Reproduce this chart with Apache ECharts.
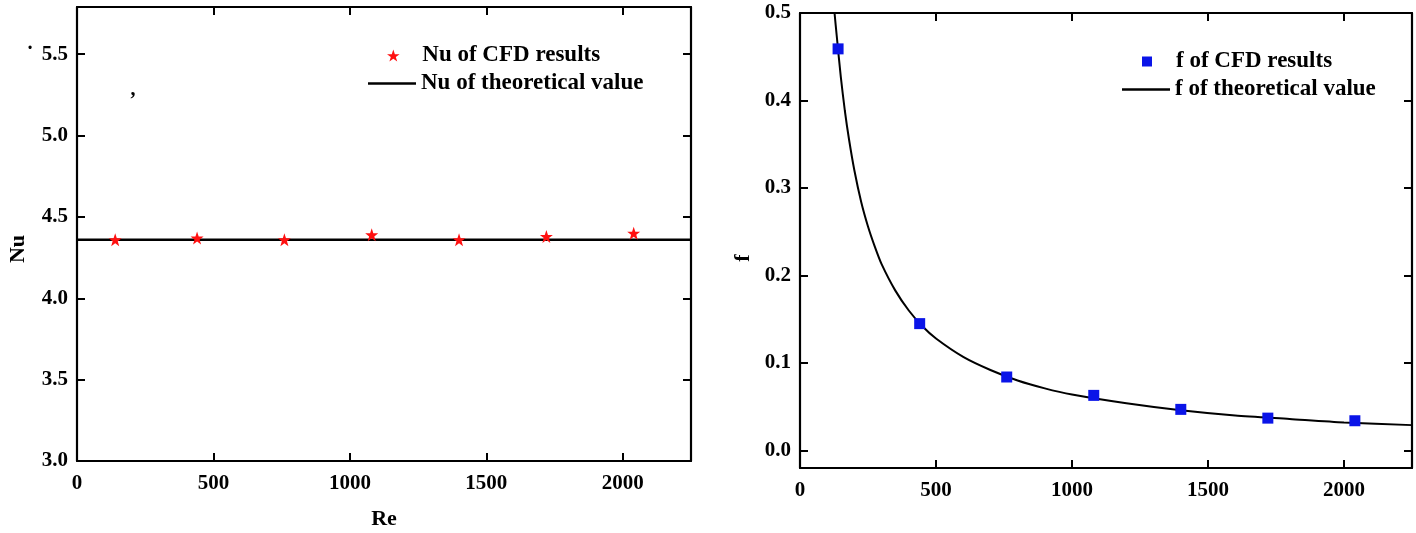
<!DOCTYPE html>
<html>
<head>
<meta charset="utf-8">
<script src="https://cdn.jsdelivr.net/npm/echarts@6/dist/echarts.min.js"></script>
<style>
html,body{margin:0;padding:0;background:#fff;}
#c{width:1416px;height:533px;}
</style>
</head>
<body>
<div id="c"></div>
<script>
// ---- data ----
var reCFD = [140, 440, 760, 1080, 1400, 1720, 2040];
var nuCFD = [4.36, 4.37, 4.36, 4.39, 4.36, 4.38, 4.40];
var nuTheoryRe = [0, 2250];
var nuTheory = [4.36, 4.36];
var fCFD = [0.459, 0.145, 0.084, 0.063, 0.047, 0.037, 0.034];
var fTheoryRe = [127, 135, 150, 165, 180, 200, 225, 250, 275, 300, 350, 400, 450, 500, 600, 700, 800, 900, 1000, 1200, 1400, 1600, 1800, 2000, 2250];
var fTheory = [0.5, 0.474, 0.427, 0.388, 0.356, 0.32, 0.284, 0.256, 0.233, 0.213, 0.183, 0.16, 0.142, 0.128, 0.107, 0.092, 0.08, 0.071, 0.064, 0.054, 0.046, 0.04, 0.036, 0.032, 0.029];
var xTicks = [0, 500, 1000, 1500, 2000];
var nuTicks = [3.0, 3.5, 4.0, 4.5, 5.0, 5.5];
var fTicks = [0.0, 0.1, 0.2, 0.3, 0.4, 0.5];

function pairs(xs, ys){ return xs.map(function(x,i){ return [x, ys[i]]; }); }

var FONT = "'Liberation Serif','Times New Roman',serif";
var axisLineStyle = {color:'#000', width:2.2};
var tickStyle = {color:'#000', width:2};
var STAR = 'path://M50,0 L61.8,35.1 L97.6,35.1 L68.8,56.9 L79.4,90.5 L50,69.5 L20.6,90.5 L31.2,56.9 L2.4,35.1 L38.2,35.1 Z';
var SQUARE = 'path://M0,0 L10,0 L10,10 L0,10 Z';

function mainX(grid, margin){
  return {type:'value', gridIndex:grid, min:0, max:2250, position:'bottom',
    axisLine:{show:true, onZero:false, lineStyle:axisLineStyle},
    axisTick:{show:true, inside:true, length:8, lineStyle:tickStyle, customValues:xTicks},
    axisLabel:{show:true, margin:margin, color:'#000', fontFamily:FONT, fontWeight:'bold', fontSize:21,
      customValues:xTicks, formatter:function(v){ return String(v); }},
    splitLine:{show:false}};
}
function mirrorX(grid){
  return {type:'value', gridIndex:grid, min:0, max:2250, position:'top',
    axisLine:{show:true, onZero:false, lineStyle:axisLineStyle},
    axisTick:{show:true, inside:true, length:8, lineStyle:tickStyle, customValues:xTicks},
    axisLabel:{show:false}, splitLine:{show:false}};
}
function mainY(grid, min, max, ticks){
  return {type:'value', gridIndex:grid, min:min, max:max, position:'left',
    axisLine:{show:true, onZero:false, lineStyle:axisLineStyle},
    axisTick:{show:true, inside:true, length:8, lineStyle:tickStyle, customValues:ticks},
    axisLabel:{show:true, margin:9, color:'#000', fontFamily:FONT, fontWeight:'bold', fontSize:21,
      customValues:ticks, formatter:function(v){ return Math.abs(v) < 1e-9 ? '0.0' : v.toFixed(1); }},
    splitLine:{show:false}};
}
function mirrorY(grid, min, max, ticks){
  return {type:'value', gridIndex:grid, min:min, max:max, position:'right',
    axisLine:{show:true, onZero:false, lineStyle:axisLineStyle},
    axisTick:{show:true, inside:true, length:8, lineStyle:tickStyle, customValues:ticks},
    axisLabel:{show:false}, splitLine:{show:false}};
}

var legendText = {color:'#000', fontFamily:FONT, fontWeight:'bold', fontSize:23};

var option = {
  animation:false,
  backgroundColor:'#fff',
  grid:[
    {left:77, right:725, top:7, bottom:72},
    {left:800, right:4, top:13, bottom:65}
  ],
  xAxis:[ mainX(0, 12), mirrorX(0), mainX(1, 12), mirrorX(1) ],
  yAxis:[ mainY(0, 3.0, 5.79, nuTicks), mirrorY(0, 3.0, 5.79, nuTicks),
          mainY(1, -0.02, 0.5, fTicks), mirrorY(1, -0.02, 0.5, fTicks) ],
  legend:[
    {data:[{name:'Nu of CFD results', icon:STAR, itemStyle:{color:'#ff1010', opacity:1}}], left:382, top:39, itemWidth:48, itemHeight:12, textStyle:legendText, selectedMode:false},
    {data:[{name:'Nu of theoretical value', icon:'rect', itemStyle:{color:'#000'}}], left:363, top:67, itemWidth:48, itemHeight:2.5, textStyle:legendText, selectedMode:false},
    {data:[{name:'f of CFD results', icon:SQUARE, itemStyle:{color:'#0a14e8', opacity:1}}], left:1137, top:45, itemWidth:48, itemHeight:10, textStyle:legendText, selectedMode:false},
    {data:[{name:'f of theoretical value', icon:'rect', itemStyle:{color:'#000'}}], left:1117, top:73, itemWidth:48, itemHeight:2.5, textStyle:legendText, selectedMode:false}
  ],
  series:[
    {name:'Nu of theoretical value', type:'line', xAxisIndex:0, yAxisIndex:0,
      data:pairs(nuTheoryRe, nuTheory), symbol:'none', lineStyle:{color:'#000', width:2.5}, itemStyle:{color:'#000'}, z:2},
    {name:'Nu of CFD results', type:'scatter', xAxisIndex:0, yAxisIndex:0,
      data:pairs(reCFD, nuCFD), symbol:STAR, symbolSize:13, itemStyle:{color:'#ff1010', opacity:1}, z:3},
    {name:'f of theoretical value', type:'line', xAxisIndex:2, yAxisIndex:2,
      data:pairs(fTheoryRe, fTheory), symbol:'none', smooth:0.25, lineStyle:{color:'#000', width:2}, itemStyle:{color:'#000'}, z:2},
    {name:'f of CFD results', type:'scatter', xAxisIndex:2, yAxisIndex:2,
      data:pairs(reCFD, fCFD), symbol:'rect', symbolSize:11, itemStyle:{color:'#0a14e8', opacity:1}, z:3}
  ],
  graphic:[
    {type:'text', x:384, y:519, style:{text:'Re', fill:'#000', font:"bold 22px "+FONT, align:'center', verticalAlign:'middle'}},
    {type:'text', x:18, y:249, rotation:Math.PI/2, style:{text:'Nu', fill:'#000', font:"bold 22px "+FONT, align:'center', verticalAlign:'middle'}},
    {type:'text', x:743, y:258, rotation:Math.PI/2, style:{text:'f', fill:'#000', font:"bold 22px "+FONT, align:'center', verticalAlign:'middle'}},
    {type:'text', x:30, y:49, style:{text:'·', fill:'#000', font:"bold 20px "+FONT, align:'center', verticalAlign:'middle'}},
    {type:'text', x:133, y:90, style:{text:',', fill:'#000', font:"bold 20px "+FONT, align:'center', verticalAlign:'middle'}}
  ]
};

var chart = echarts.init(document.getElementById('c'), null, {renderer:'canvas'});
chart.setOption(option);
</script>
</body>
</html>
